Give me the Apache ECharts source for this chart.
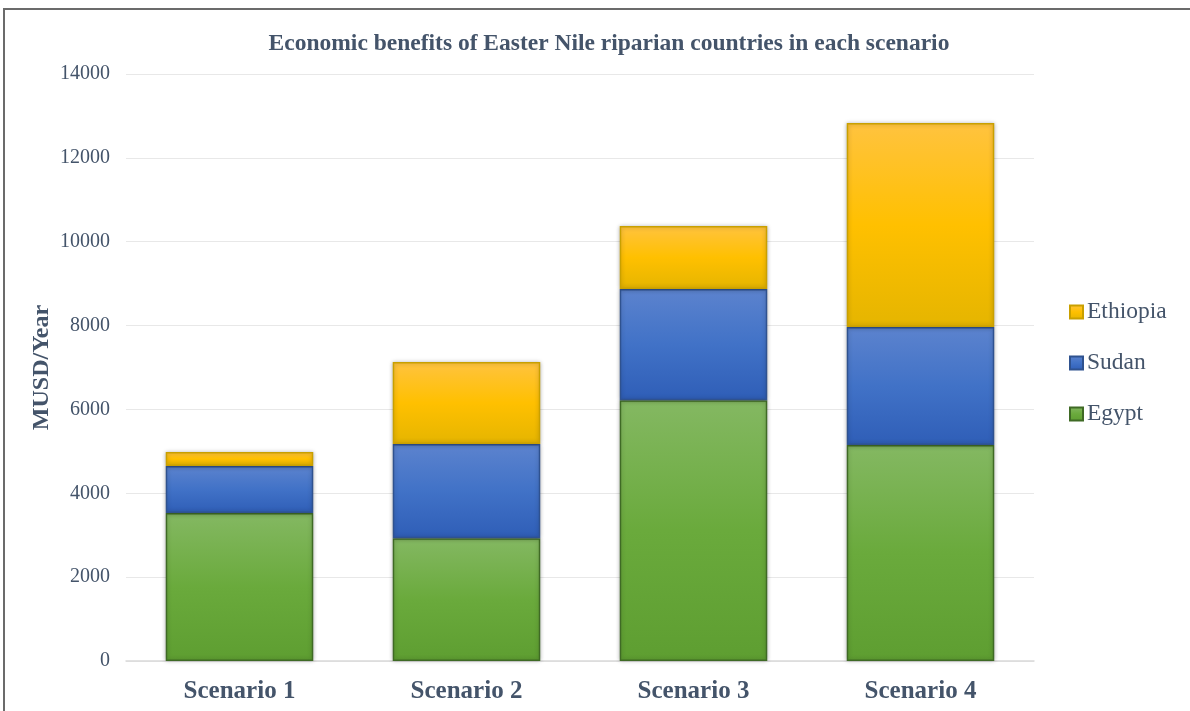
<!DOCTYPE html>
<html><head><meta charset="utf-8">
<script src="https://cdn.jsdelivr.net/npm/echarts@6/dist/echarts.min.js"></script>
<style>html,body{margin:0;padding:0;background:#fff}#c{width:1190px;height:711px}</style>
</head><body><div id="c"></div>
<script>
var categories = ['Scenario 1','Scenario 2','Scenario 3','Scenario 4'];
var egypt = [3530, 2930, 6220, 5150];
var sudan = [1120, 2245, 2650, 2815];
var ethiopia = [335, 1955, 1505, 4865];
var yTicks = [0, 2000, 4000, 6000, 8000, 10000, 12000, 14000];

var TXT = '#44546A';
var FONT = '"Liberation Serif", "Times New Roman", serif';
function grad(c1, c2, c3){
  return new echarts.graphic.LinearGradient(0,0,0,1,[
    {offset:0,color:c1},{offset:0.5,color:c2},{offset:1,color:c3}]);
}
var chart = echarts.init(document.getElementById('c'));
var common = {type:'bar', stack:'t', barWidth:'65%'};
chart.setOption({
  animation:false,
  textStyle:{fontFamily:FONT},
  graphic:[{type:'rect', shape:{x:4,y:9,width:1200,height:720}, style:{fill:'none', stroke:'#6b6b6b', lineWidth:2}, silent:true}],
  title:{text:'Economic benefits of Easter Nile riparian countries in each scenario', left:604, textAlign:'center', top:27,
    textStyle:{fontFamily:FONT, fontWeight:'bold', fontSize:23.5, color:TXT}},
  legend:{orient:'vertical', left:1064, top:295, itemWidth:13, itemHeight:13, itemGap:27, icon:'rect',
    data:['Ethiopia','Sudan','Egypt'], textStyle:{fontFamily:FONT, fontSize:23.5, color:TXT, padding:[0,0,0,-1]}},
  grid:{left:126, right:156, top:74, bottom:50},
  xAxis:{type:'category', data:categories,
    axisLine:{lineStyle:{color:'#d9d9d9', width:1.5}}, axisTick:{show:false},
    axisLabel:{fontFamily:FONT, fontWeight:'bold', fontSize:25, color:TXT, margin:18}},
  yAxis:{type:'value', min:yTicks[0], max:yTicks[yTicks.length-1], interval:2000,
    name:'MUSD/Year', nameLocation:'middle', nameGap:72, nameRotate:90, nameMoveOverlap:false,
    nameTextStyle:{fontFamily:FONT, fontWeight:'bold', fontSize:24, color:TXT},
    axisLabel:{fontFamily:FONT, fontSize:20, color:TXT, margin:16, formatter:function(v){return String(v);}},
    splitLine:{lineStyle:{color:'#e8e8e8', width:1}}},
  series:[
    Object.assign({name:'Egypt', data:egypt,
      itemStyle:{color:grad('#84B862','#6AAA3C','#5E9E31'), borderColor:'#3F6A25', borderWidth:1.5, shadowColor:'rgba(0,0,0,0.25)', shadowBlur:4}}, common),
    Object.assign({name:'Sudan', data:sudan,
      itemStyle:{color:grad('#5C83CE','#4172C7','#2F5EB7'), borderColor:'#2F528F', borderWidth:1.5, shadowColor:'rgba(0,0,0,0.25)', shadowBlur:4}}, common),
    Object.assign({name:'Ethiopia', data:ethiopia,
      itemStyle:{color:grad('#FFC33F','#FFC000','#E5B500'), borderColor:'#C9A000', borderWidth:1.5, shadowColor:'rgba(0,0,0,0.25)', shadowBlur:4}}, common)
  ]
});
</script></body></html>
